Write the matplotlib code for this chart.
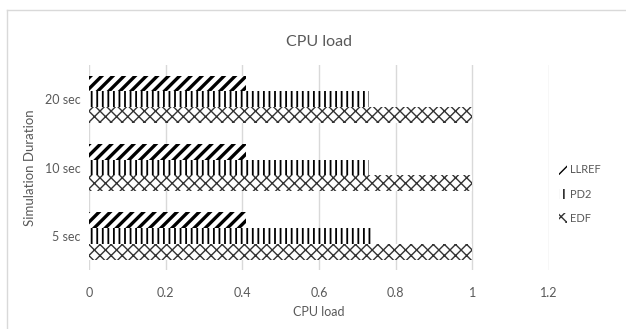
import numpy as np
import matplotlib
matplotlib.use("Agg")
import matplotlib.pyplot as plt
from matplotlib.lines import Line2D

plt.rcParams['font.family'] = ['Lato', 'DejaVu Sans']

# dados
duracoes = ['5 sec', '10 sec', '20 sec']
llref = [0.41, 0.41, 0.41]
pd2 = [0.74, 0.73, 0.73]
edf = [1.0, 1.0, 1.0]

cinza = '#595959'
fig = plt.figure(figsize=(6.26, 3.29), dpi=100)
ax = fig.add_axes([0.142, 0.179, 0.735, 0.623])

y = np.arange(len(duracoes))
h = 0.23

plt.rcParams['hatch.linewidth'] = 2.4
b1 = ax.barh(y + h, llref, height=h, color='white', edgecolor='black',
             linewidth=0, hatch='///', label='LLREF')
plt.rcParams['hatch.linewidth'] = 1.3
b2 = ax.barh(y, pd2, height=h, color='white', edgecolor='black',
             linewidth=0, hatch='|||', label='PD2')
plt.rcParams['hatch.linewidth'] = 1.0
b3 = ax.barh(y - h, edf, height=h, color='white', edgecolor='#333333',
             linewidth=0, hatch='xxx', label='EDF')

ax.set_xlim(0, 1.2)
ax.set_ylim(-0.5, 2.5)
ax.set_xticks(np.arange(0, 1.21, 0.2))
ax.set_xticklabels(['0', '0.2', '0.4', '0.6', '0.8', '1', '1.2'])
ax.set_yticks(y)
ax.set_yticklabels(duracoes)
ax.grid(axis='x', color='#d9d9d9', linewidth=1)
ax.set_axisbelow(True)
for s in ax.spines.values():
    s.set_visible(False)
ax.tick_params(length=0, colors=cinza, labelsize=9, pad=12)
ax.tick_params(axis='y', pad=6)

ax.set_title('CPU load', color=cinza, fontsize=11.5, pad=14)
ax.set_xlabel('CPU load', color=cinza, fontsize=9, labelpad=5)
ax.set_ylabel('Simulation Duration', color=cinza, fontsize=9.5, labelpad=6)

leg = ax.legend(handles=[b1, b2, b3], loc='center left',
                bbox_to_anchor=(1.0, 0.37), frameon=False, fontsize=8,
                handlelength=0.7, handleheight=1.0, labelspacing=1.2,
                handletextpad=0.3, labelcolor=cinza)

# moldura do gráfico (só aparece em cima e à esquerda)
fig.add_artist(Line2D([0.011, 1.0], [0.970, 0.970], color='#d9d9d9', lw=1))
fig.add_artist(Line2D([0.011, 0.011], [0.0, 0.970], color='#d9d9d9', lw=1))

fig.savefig('out.png', dpi=100)
